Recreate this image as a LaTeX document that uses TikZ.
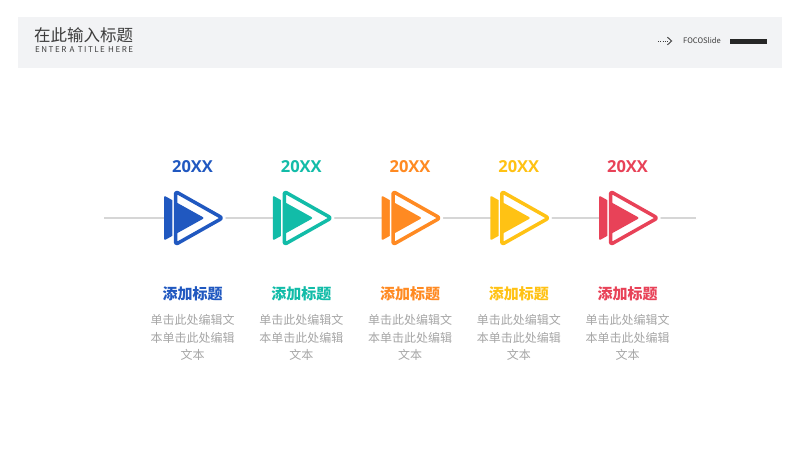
\documentclass[tikz,border=0pt]{standalone}
\usepackage{fontspec}
\setmainfont{Noto Sans CJK SC}
\newfontfamily\latinfont{Open Sans}
\usetikzlibrary{positioning, calc}
\definecolor{headbg}{RGB}{242,243,245}
\definecolor{titlegray}{RGB}{60,60,60}
\definecolor{bodygray}{RGB}{166,166,166}
\definecolor{axisgray}{RGB}{214,214,214}
\definecolor{cblue}{RGB}{32,88,192}
\definecolor{cteal}{RGB}{18,188,168}
\definecolor{corange}{RGB}{255,138,34}
\definecolor{cyellow}{RGB}{255,194,20}
\definecolor{cred}{RGB}{232,66,88}

\begin{document}
\begin{tikzpicture}[x=1pt, y=-1pt,
  yearlbl/.style = {inner sep=0pt, font=\latinfont\fontsize{16.5}{18}\selectfont\bfseries, text=#1},
  headlbl/.style = {inner sep=0pt, font=\fontsize{15}{17}\selectfont\bfseries, text=#1},
  bodytxt/.style = {inner sep=0pt, align=center, text=bodygray,
                    font=\fontsize{12}{17.5}\selectfont},
  solidtri/.style = {fill=#1, rounded corners=2pt},
  hollowtri/.style = {draw=#1, line width=3.5pt, rounded corners=2.5pt, line join=round},
  haloline/.style = {draw=white, fill=white, line width=6.5pt, line join=round},
  axisline/.style = {draw=axisgray, line width=1.4pt},
]
\useasboundingbox[fill=white] (0,0) rectangle (800,450);

%% Header band
\fill[headbg] (18,17) rectangle (782,68);
\node[anchor=west, inner sep=0pt, text=titlegray,
      font=\fontsize{16.5}{18}\selectfont] (title) at (34,35.5) {在此输入标题};
\node[anchor=west, inner sep=0pt, text=titlegray,
      font=\fontsize{8}{9}\selectfont\addfontfeatures{LetterSpace=19}] (subtitle) at (35,50) {ENTER A TITLE HERE};

%% Brand mark (right)
\coordinate (dots0) at (658,41);
\coordinate (dots1) at (668,41);
\draw[titlegray, line width=0.8pt, dash pattern=on 1pt off 1.3pt] (dots0) -- (dots1);
\draw[titlegray, line width=0.9pt] ($(dots1)+(-0.5,-3.8)$) -- ($(dots1)+(3.6,0)$) -- ($(dots1)+(-0.5,3.8)$);
\node[anchor=west, inner sep=0pt, text=titlegray,
      font=\fontsize{7.6}{8}\selectfont] (brand) at (683,40.5) {FOCOSlide};
\fill[black!85] (730,38.5) rectangle (767,43.8);

%% Timeline axis
\coordinate (axisL) at (104,218);
\coordinate (axisR) at (696,218);
\draw[axisline] (axisL) -- (axisR);

%% Milestones
\foreach \i/\c in {0/cblue, 1/cteal, 2/corange, 3/cyellow, 4/cred} {
  \pgfmathsetmacro{\x}{192.5+108.75*\i}
  \node[yearlbl=\c] (year\i) at (\x,167) {20XX};
  \fill[solidtri=\c] (\x-28.5,195.5) -- (\x+12,218) -- (\x-28.5,240.5) -- cycle;
  \draw[haloline] (\x-17,191.5) -- (\x+30,218) -- (\x-17,244.5) -- cycle;
  \begin{scope}
    \clip (\x-17,191.5) -- (\x+30,218) -- (\x-17,244.5) -- cycle;
    \fill[solidtri=\c] (\x-28.5,195.5) -- (\x+12,218) -- (\x-28.5,240.5) -- cycle;
  \end{scope}
  \draw[hollowtri=\c] (\x-17,191.5) -- (\x+30,218) -- (\x-17,244.5) -- cycle;
  \node[headlbl=\c] (head\i) at (\x,294) {添加标题};
  \node[bodytxt, anchor=north] (body\i) at (\x,314.5) {单击此处编辑文\\本单击此处编辑\\文本};
}

\end{tikzpicture}
\end{document}
